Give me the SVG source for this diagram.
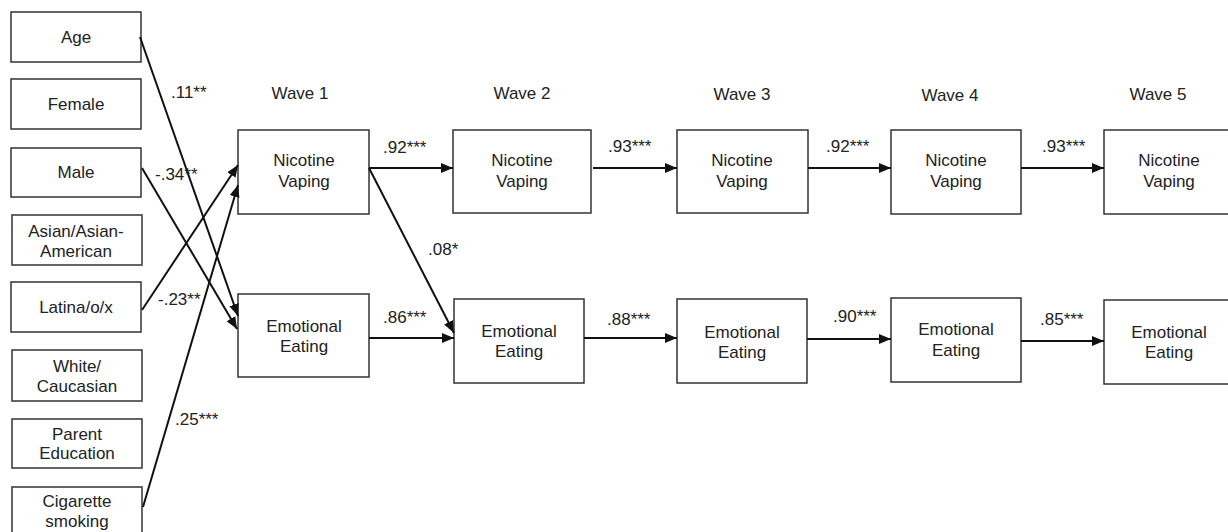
<svg xmlns="http://www.w3.org/2000/svg" width="1228" height="532" viewBox="0 0 1228 532">
<style>
.box{fill:#fff;stroke:#333;stroke-width:1.5}
text{font-family:"Liberation Sans",Arial,sans-serif;font-size:17px;fill:#222;text-anchor:middle}
.lbl{font-size:17px;text-anchor:start}
.edge{stroke:#111;stroke-width:2;fill:none;marker-end:url(#ah)}
</style>
<defs>
<marker id="ah" markerUnits="userSpaceOnUse" markerWidth="14" markerHeight="14" viewBox="0 0 14 14" refX="12" refY="7" orient="auto">
<path d="M0,2 L12,7 L0,12 Z" fill="#111"/>
</marker>
</defs>
<rect width="1228" height="532" fill="#fff"/>
<g id="waves">
<text x="300" y="99">Wave 1</text>
<text x="522" y="99">Wave 2</text>
<text x="742" y="100">Wave 3</text>
<text x="950" y="101">Wave 4</text>
<text x="1158" y="100">Wave 5</text>
</g>
<g id="age"><rect class="box" x="11" y="12" width="130" height="50"/><text x="76" y="43">Age</text></g>
<g id="female"><rect class="box" x="11" y="79" width="130" height="50"/><text x="76" y="110">Female</text></g>
<g id="male"><rect class="box" x="11" y="148" width="130" height="49"/><text x="76" y="178">Male</text></g>
<g id="asian"><rect class="box" x="12" y="215" width="130" height="50"/><text x="76" y="237">Asian/Asian-</text><text x="76" y="257">American</text></g>
<g id="latina"><rect class="box" x="11" y="282" width="130" height="50"/><text x="76" y="313">Latina/o/x</text></g>
<g id="white"><rect class="box" x="12" y="350" width="130" height="51"/><text x="77" y="372">White/</text><text x="77" y="392">Caucasian</text></g>
<g id="parent"><rect class="box" x="12" y="419" width="130" height="49"/><text x="77" y="440">Parent</text><text x="77" y="459">Education</text></g>
<g id="cigarette"><rect class="box" x="12" y="487" width="130" height="52"/><text x="77" y="507">Cigarette</text><text x="77" y="527">smoking</text></g>

<g id="nv1"><rect class="box" x="238" y="130" width="131" height="84"/><text x="304" y="166">Nicotine</text><text x="304" y="187">Vaping</text></g>
<g id="ee1"><rect class="box" x="238" y="294" width="131" height="83"/><text x="304" y="332">Emotional</text><text x="304" y="352">Eating</text></g>
<g id="nv2"><rect class="box" x="453" y="130" width="138" height="83"/><text x="522" y="166">Nicotine</text><text x="522" y="187">Vaping</text></g>
<g id="ee2"><rect class="box" x="454" y="299" width="130" height="84"/><text x="519" y="337">Emotional</text><text x="519" y="357">Eating</text></g>
<g id="nv3"><rect class="box" x="677" y="130" width="131" height="83"/><text x="742" y="166">Nicotine</text><text x="742" y="187">Vaping</text></g>
<g id="ee3"><rect class="box" x="677" y="299" width="130" height="84"/><text x="742" y="338">Emotional</text><text x="742" y="358">Eating</text></g>
<g id="nv4"><rect class="box" x="891" y="130" width="130" height="84"/><text x="956" y="166">Nicotine</text><text x="956" y="187">Vaping</text></g>
<g id="ee4"><rect class="box" x="891" y="298" width="130" height="84"/><text x="956" y="335">Emotional</text><text x="956" y="356">Eating</text></g>
<g id="nv5"><rect class="box" x="1104" y="130" width="130" height="84"/><text x="1169" y="166">Nicotine</text><text x="1169" y="187">Vaping</text></g>
<g id="ee5"><rect class="box" x="1104" y="300" width="130" height="84"/><text x="1169" y="338">Emotional</text><text x="1169" y="358">Eating</text></g>

<g id="connectors">
<line class="edge" x1="140" y1="37" x2="238" y2="316"/>
<line class="edge" x1="142" y1="168" x2="237" y2="329"/>
<line class="edge" x1="142" y1="310" x2="238" y2="165"/>
<line class="edge" x1="143" y1="507" x2="238" y2="185"/>
<line class="edge" x1="369" y1="168" x2="453" y2="168"/>
<line class="edge" x1="593" y1="168" x2="677" y2="168"/>
<line class="edge" x1="808" y1="168" x2="891" y2="168"/>
<line class="edge" x1="1021" y1="168" x2="1104" y2="168"/>
<line class="edge" x1="369" y1="338" x2="454" y2="338"/>
<line class="edge" x1="584" y1="338" x2="677" y2="338"/>
<line class="edge" x1="807" y1="339" x2="891" y2="339"/>
<line class="edge" x1="1021" y1="341" x2="1104" y2="341"/>
<line class="edge" x1="369" y1="168" x2="454" y2="333"/>
</g>
<g id="labels">
<text class="lbl" x="171" y="98">.11**</text>
<text class="lbl" x="155" y="180">-.34**</text>
<text class="lbl" x="158" y="305">-.23**</text>
<text class="lbl" x="175" y="425">.25***</text>
<text class="lbl" x="428" y="255">.08*</text>
<text class="lbl" x="383" y="153">.92***</text>
<text class="lbl" x="608" y="152">.93***</text>
<text class="lbl" x="826" y="152">.92***</text>
<text class="lbl" x="1042" y="152">.93***</text>
<text class="lbl" x="383" y="323">.86***</text>
<text class="lbl" x="607" y="325">.88***</text>
<text class="lbl" x="833" y="322">.90***</text>
<text class="lbl" x="1040" y="325">.85***</text>
</g>
</svg>
